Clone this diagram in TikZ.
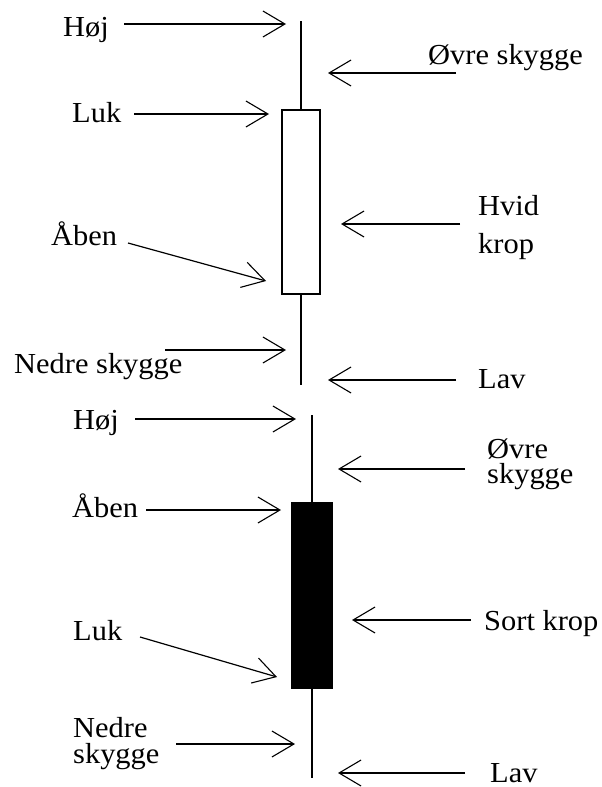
\documentclass[tikz,border=0pt]{standalone}
\usepackage{fontspec}
\setmainfont[FakeStretch=1.05]{Liberation Serif}
\usetikzlibrary{arrows.meta}
\newcommand{\twolns}[3]{\vtop{\baselineskip=#1pt\hbox{#2}\hbox{#3}}}
\begin{document}
\begin{tikzpicture}[x=1pt,y=-1pt,
  lbl/.style={inner sep=0pt,anchor=base west,font=\fontsize{29}{29}\selectfont},
  arr/.style={line width=1.2pt,-{Straight Barb[length=22pt,width=26pt,line width=1.1pt]}},
  wick/.style={line width=1.3pt},
  whitebody/.style={draw,line width=1.3pt,fill=white,inner sep=0pt},
  blackbody/.style={draw,line width=1.3pt,fill=black,inner sep=0pt}]
\useasboundingbox[fill=white] (0,0) rectangle (602,787);
% ---------- top (white) candle ----------
\node[whitebody,minimum width=38pt,minimum height=184pt] (wb) at (301,202) {};
\coordinate (wtop) at (301,21);
\coordinate (wbot) at (301,385);
\draw[wick] (wtop) -- (wb.north);
\draw[wick] (wb.south) -- (wbot);
% labels
\node[lbl] (hoj1) at (63,36) {Høj};
\node[lbl] (luk1) at (72,122) {Luk};
\node[lbl] (ovre1) at (428,64) {Øvre skygge};
\node[lbl] (hvid) at (478,215) {\twolns{38}{Hvid}{krop}};
\node[lbl] (aben1) at (51,245) {Åben};
\node[lbl] (nedre1) at (14,373) {Nedre skygge};
\node[lbl] (lav1) at (478,388) {Lav};
% arrows
\coordinate (s1) at (124,24);  \coordinate (t1) at (286,24);
\coordinate (s2) at (134,114); \coordinate (t2) at (269,114);
\coordinate (s3) at (456,73);  \coordinate (t3) at (328,73);
\coordinate (s4) at (460,224); \coordinate (t4) at (341,224);
\coordinate (s5) at (128,243); \coordinate (t5) at (266,281);
\coordinate (s6) at (165,350); \coordinate (t6) at (286,350);
\coordinate (s7) at (456,380); \coordinate (t7) at (328,380);
\draw[arr] (s1) -- (t1);
\draw[arr] (s2) -- (t2);
\draw[arr] (s3) -- (t3);
\draw[arr] (s4) -- (t4);
\draw[arr] (s5) -- (t5);
\draw[arr] (s6) -- (t6);
\draw[arr] (s7) -- (t7);
% ---------- bottom (black) candle ----------
\node[blackbody,minimum width=40pt,minimum height=185pt] (bb) at (312,595.5) {};
\coordinate (btop) at (312,415);
\coordinate (bbot) at (312,778);
\draw[wick] (btop) -- (bb.north);
\draw[wick] (bb.south) -- (bbot);
% labels
\node[lbl] (hoj2) at (73,429) {Høj};
\node[lbl] (aben2) at (72,517) {Åben};
\node[lbl] (luk2) at (73,640) {Luk};
\node[lbl] (nedre2) at (73,737) {\twolns{26}{Nedre}{skygge}};
\node[lbl] (ovre2) at (487,458) {\twolns{25}{Øvre}{skygge}};
\node[lbl] (sort) at (484,630) {Sort krop};
\node[lbl] (lav2) at (490,782) {Lav};
% arrows
\coordinate (s8) at (135,419);  \coordinate (t8) at (296,419);
\coordinate (s9) at (146,510);  \coordinate (t9) at (281,510);
\coordinate (s10) at (140,637); \coordinate (t10) at (277,677);
\coordinate (s11) at (176,744); \coordinate (t11) at (295,744);
\coordinate (s12) at (465,469); \coordinate (t12) at (338,469);
\coordinate (s13) at (471,620); \coordinate (t13) at (352,620);
\coordinate (s14) at (465,773); \coordinate (t14) at (338,773);
\draw[arr] (s8) -- (t8);
\draw[arr] (s9) -- (t9);
\draw[arr] (s10) -- (t10);
\draw[arr] (s11) -- (t11);
\draw[arr] (s12) -- (t12);
\draw[arr] (s13) -- (t13);
\draw[arr] (s14) -- (t14);
\end{tikzpicture}
\end{document}
